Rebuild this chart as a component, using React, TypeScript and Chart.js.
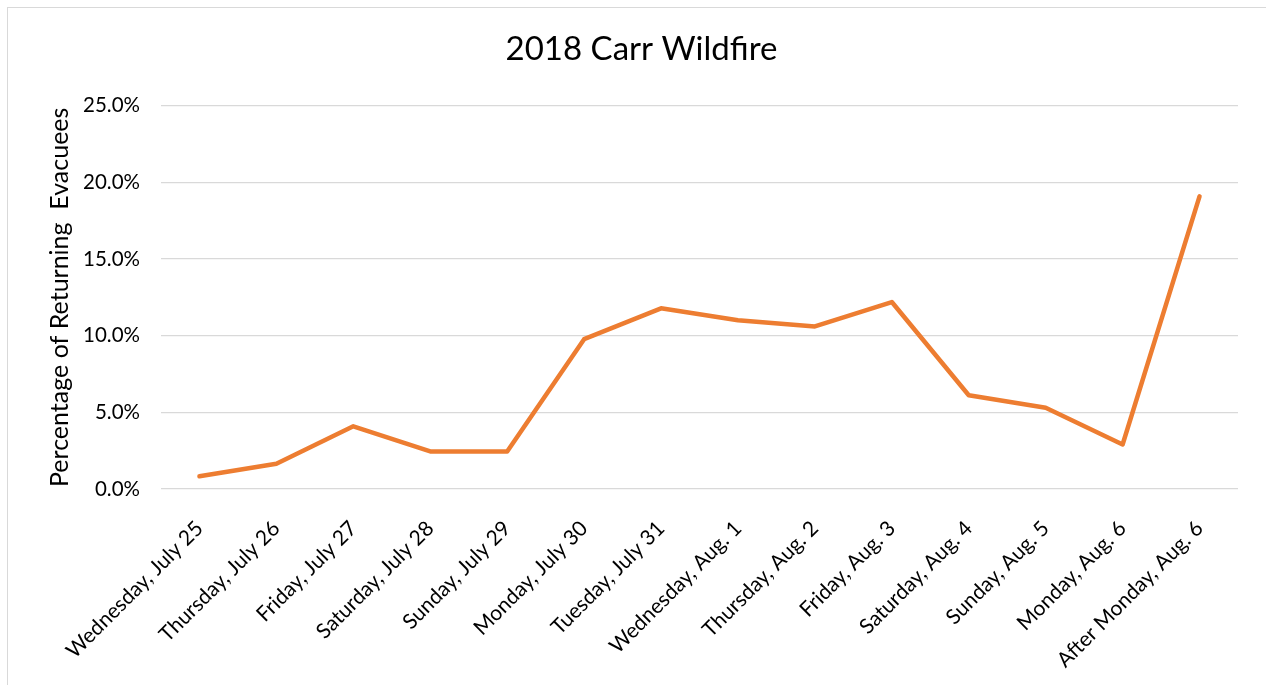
import React, { useEffect, useRef } from "react";
import { Chart, registerables } from "chart.js";

Chart.register(...registerables);

const categories = [
  "Wednesday, July 25",
  "Thursday, July 26",
  "Friday, July 27",
  "Saturday, July 28",
  "Sunday, July 29",
  "Monday, July 30",
  "Tuesday, July 31",
  "Wednesday, Aug. 1",
  "Thursday, Aug. 2",
  "Friday, Aug. 3",
  "Saturday, Aug. 4",
  "Sunday, Aug. 5",
  "Monday, Aug. 6",
  "After Monday, Aug. 6",
];

const returningPct = [0.83, 1.65, 4.09, 2.45, 2.45, 9.77, 11.78, 11.0, 10.6, 12.19, 6.11, 5.3, 2.9, 19.08];

const yTicks = [0, 5, 10, 15, 20, 25];

const chartTitle = "2018 Carr Wildfire";
const yTitle = "Percentage of Returning  Evacuees";

const FONT = "Lato, 'Open Sans', sans-serif";

export default function App() {
  const ref = useRef<HTMLCanvasElement | null>(null);

  useEffect(() => {
    if (!ref.current) return;
    const chart = new Chart(ref.current, {
      type: "line",
      data: {
        labels: categories,
        datasets: [
          {
            data: returningPct,
            borderColor: "#ED7D31",
            backgroundColor: "#ED7D31",
            borderWidth: 4.5,
            borderCapStyle: "round",
            borderJoinStyle: "round",
            pointRadius: 0,
            tension: 0,
          },
        ],
      },
      options: {
        animation: false,
        responsive: true,
        maintainAspectRatio: false,
        layout: { padding: { left: 37, right: 28, top: 0, bottom: 0 } },
        plugins: {
          legend: { display: false },
          tooltip: { enabled: false },
          title: {
            display: true,
            text: chartTitle,
            color: "#000",
            font: { family: FONT, size: 33, weight: "normal" },
            padding: { top: 22, bottom: 36 },
          },
        },
        scales: {
          x: {
            type: "category",
            offset: true,
            grid: { display: false },
            border: { display: false },
            ticks: {
              autoSkip: false,
              minRotation: 45,
              maxRotation: 45,
              padding: 19,
              color: "#000",
              font: { family: FONT, size: 21 },
            },
            afterFit: (s: any) => {
              s.height = 196;
            },
          },
          y: {
            min: 0,
            max: 25,
            afterBuildTicks: (s: any) => {
              s.ticks = yTicks.map((v) => ({ value: v }));
            },
            grid: { color: "#d9d9d9", lineWidth: 1.3, drawTicks: false },
            border: { display: false },
            ticks: {
              padding: 21,
              color: "#000",
              font: { family: FONT, size: 20.5 },
              callback: (v: any) => Number(v).toFixed(1) + "%",
            },
            title: {
              display: true,
              text: yTitle,
              color: "#000",
              padding: 0,
              font: { family: FONT, size: 25, weight: "normal" },
            },
            afterFit: (s: any) => {
              s.width = 116;
            },
          },
        },
      },
    });
    return () => chart.destroy();
  }, []);

  return (
    <div
      style={{
        position: "fixed",
        left: 7,
        top: 7,
        right: 0,
        bottom: 0,
        borderLeft: "1px solid #d9d9d9",
        borderTop: "1px solid #d9d9d9",
        background: "#fff",
      }}
    >
      <div style={{ position: "relative", width: "100%", height: "100%" }}>
        <canvas ref={ref} />
      </div>
    </div>
  );
}
